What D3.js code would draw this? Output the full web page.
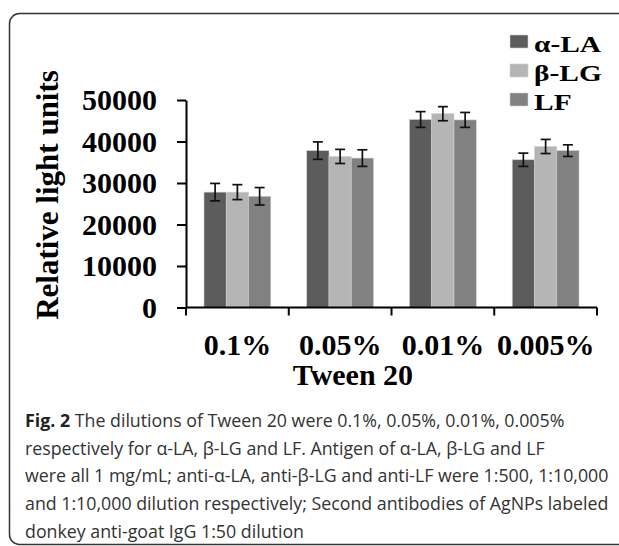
<!DOCTYPE html>
<html lang="en">
<head>
    <meta charset="UTF-8">
    <title>Tween 20 dilutions</title>
    <script src="https://d3js.org/d3.v7.min.js"></script>
    <style>
        body { margin: 0; background: #fff; }
    </style>
</head>
<body>
    <div id="chart"></div>

    <script>
        // values
        const categories = ["0.1%", "0.05%", "0.01%", "0.005%"];
        const seriesNames = ["α-LA", "β-LG", "LF"];
        const alphaLA = [27800, 37800, 45300, 35600];
        const betaLG = [27800, 36400, 46700, 38800];
        const lf = [26800, 36000, 45200, 37800];
        const alphaErr = [2100, 2100, 1900, 1600];
        const betaErr = [1800, 1700, 1700, 1700];
        const lfErr = [2100, 2000, 1800, 1400];
        const yTicks = [0, 10000, 20000, 30000, 40000, 50000];
        const colors = ["#5c5c5c", "#b5b5b5", "#818181"];

        const captionLines = [
            " The dilutions of Tween 20 were 0.1%, 0.05%, 0.01%, 0.005%",
            "respectively for α-LA, β-LG and LF. Antigen of α-LA, β-LG and LF",
            "were all 1 mg/mL; anti-α-LA, anti-β-LG and anti-LF were 1:500, 1:10,000",
            "and 1:10,000 dilution respectively; Second antibodies of AgNPs labeled",
            "donkey anti-goat IgG 1:50 dilution"
        ];

        const width = 619;
        const height = 546;
        const serif = "'Liberation Serif', 'Times New Roman', serif";

        const values = [alphaLA, betaLG, lf];
        const errors = [alphaErr, betaErr, lfErr];

        const svg = d3.select("#chart").append("svg")
            .attr("width", width)
            .attr("height", height);

        svg.append("rect")
            .attr("width", width)
            .attr("height", height)
            .attr("fill", "#fff");

        // frame of the figure, open on the right
        svg.append("rect")
            .attr("x", 9.5)
            .attr("y", 13.5)
            .attr("width", 700)
            .attr("height", 531)
            .attr("rx", 10)
            .attr("fill", "none")
            .attr("stroke", "#333")
            .attr("stroke-width", 1.5);

        const y = d3.scaleLinear()
            .domain([0, 50000])
            .range([307.5, 100]);

        const x = d3.scaleBand()
            .domain(categories)
            .range([186, 597])
            .paddingInner(0.35)
            .paddingOuter(0.175);

        const x1 = d3.scaleBand()
            .domain(seriesNames)
            .range([0, x.bandwidth()]);

        // bars
        const groups = svg.selectAll(".group")
            .data(categories)
            .enter()
            .append("g")
            .attr("class", "group")
            .attr("transform", d => "translate(" + x(d) + ",0)");

        groups.selectAll("rect")
            .data((d, i) => seriesNames.map((s, j) => ({ s: s, v: values[j][i], e: errors[j][i], j: j })))
            .enter()
            .append("rect")
            .attr("x", d => x1(d.s))
            .attr("y", d => y(d.v))
            .attr("width", x1.bandwidth())
            .attr("height", d => y(0) - y(d.v))
            .attr("fill", d => colors[d.j])
            .attr("stroke", "#d0d0d0")
            .attr("stroke-width", 0.6);

        // error bars
        const err = groups.selectAll(".err")
            .data((d, i) => seriesNames.map((s, j) => ({ s: s, v: values[j][i], e: errors[j][i] })))
            .enter()
            .append("g")
            .attr("class", "err")
            .attr("stroke", "#111")
            .attr("stroke-width", 1.7);

        err.append("line")
            .attr("x1", d => x1(d.s) + x1.bandwidth() / 2)
            .attr("x2", d => x1(d.s) + x1.bandwidth() / 2)
            .attr("y1", d => y(d.v + d.e))
            .attr("y2", d => y(d.v - d.e));

        err.append("line")
            .attr("x1", d => x1(d.s) + x1.bandwidth() / 2 - 5)
            .attr("x2", d => x1(d.s) + x1.bandwidth() / 2 + 5)
            .attr("y1", d => y(d.v + d.e))
            .attr("y2", d => y(d.v + d.e));

        err.append("line")
            .attr("x1", d => x1(d.s) + x1.bandwidth() / 2 - 5)
            .attr("x2", d => x1(d.s) + x1.bandwidth() / 2 + 5)
            .attr("y1", d => y(d.v - d.e))
            .attr("y2", d => y(d.v - d.e));

        // y axis
        const yAxis = svg.append("g")
            .attr("transform", "translate(186,0)")
            .call(d3.axisLeft(y)
                .tickValues(yTicks)
                .tickSize(9)
                .tickSizeOuter(0)
                .tickPadding(20)
                .tickFormat(d3.format("d")));

        yAxis.select(".domain").attr("stroke", "#000").attr("stroke-width", 2);
        yAxis.selectAll(".tick line").attr("stroke", "#000").attr("stroke-width", 2);
        yAxis.selectAll(".tick text")
            .attr("fill", "#000")
            .style("font-family", serif)
            .style("font-size", "30px")
            .style("font-weight", "bold");

        // x axis: line with ticks at band boundaries
        const half = (x.step() - x.bandwidth()) / 2;
        const xTicks = categories.map(c => x(c) - half).concat([x.range()[1]]);

        svg.append("line")
            .attr("x1", x.range()[0])
            .attr("x2", x.range()[1])
            .attr("y1", y(0))
            .attr("y2", y(0))
            .attr("stroke", "#000")
            .attr("stroke-width", 2);

        svg.selectAll(".xtick")
            .data(xTicks)
            .enter()
            .append("line")
            .attr("class", "xtick")
            .attr("x1", d => d)
            .attr("x2", d => d)
            .attr("y1", y(0))
            .attr("y2", y(0) + 8)
            .attr("stroke", "#000")
            .attr("stroke-width", 2);

        svg.selectAll(".xlabel")
            .data(categories)
            .enter()
            .append("text")
            .attr("class", "xlabel")
            .attr("x", d => x(d) + x.bandwidth() / 2)
            .attr("y", 355)
            .attr("text-anchor", "middle")
            .style("font-family", serif)
            .style("font-size", "30px")
            .style("font-weight", "bold")
            .text(d => d);

        svg.append("text")
            .attr("x", 353)
            .attr("y", 385)
            .attr("text-anchor", "middle")
            .style("font-family", serif)
            .style("font-size", "30px")
            .style("font-weight", "bold")
            .text("Tween 20");

        svg.append("text")
            .attr("transform", "translate(58,195) rotate(-90)")
            .attr("text-anchor", "middle")
            .style("font-family", serif)
            .style("font-size", "31px")
            .style("font-weight", "bold")
            .text("Relative light units");

        // legend (its lettering is wide and short in the figure)
        const legend = svg.selectAll(".legend")
            .data(seriesNames)
            .enter()
            .append("g")
            .attr("class", "legend")
            .attr("transform", (d, i) => "translate(510," + (35 + i * 29) + ")");

        legend.append("rect")
            .attr("width", 18)
            .attr("height", 13)
            .attr("fill", (d, i) => colors[i])
            .attr("stroke", "#d0d0d0")
            .attr("stroke-width", 0.6);

        legend.append("text")
            .attr("transform", "translate(24,16.5) scale(1.28,1)")
            .style("font-family", serif)
            .style("font-size", "23px")
            .style("font-weight", "bold")
            .text(d => d);

        // caption
        const caption = svg.append("g")
            .style("font-family", "'Open Sans', sans-serif")
            .style("font-size", "17.8px")
            .attr("fill", "#333");

        caption.selectAll("text")
            .data(captionLines)
            .enter()
            .append("text")
            .attr("x", 25)
            .attr("y", (d, i) => 427 + i * 27.7)
            .each(function (d, i) {
                const t = d3.select(this);
                if (i === 0) {
                    t.append("tspan").style("font-weight", "bold").attr("fill", "#222").text("Fig. 2");
                }
                t.append("tspan").text(d);
            });
    </script>
</body>
</html>
